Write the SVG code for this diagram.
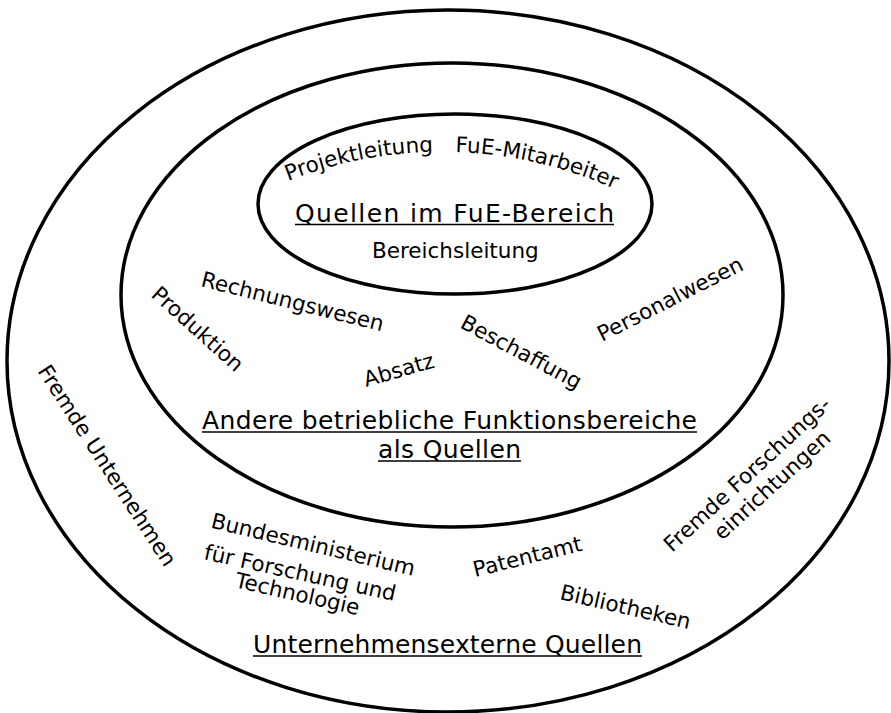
<svg xmlns="http://www.w3.org/2000/svg" xmlns:xlink="http://www.w3.org/1999/xlink" width="891" height="713" viewBox="0 0 891 713">
  <style>
    .ring { fill: none; stroke: #000; stroke-width: 3.5; }
    .lbl { font-family: "DejaVu Sans", "Liberation Sans", sans-serif; font-size: 21.5px; fill: #000; }
    .ttl { font-family: "DejaVu Sans", "Liberation Sans", sans-serif; font-size: 25px; fill: #000; }
    .ul { stroke: #000; stroke-width: 1.6; }
  </style>
  <defs>
    <!-- baseline arc for the labels along the top of the inner ring -->
    <path id="arcTop" d="M288,181 A420,420 0 0,1 650,207" fill="none"/>
  </defs>
  <rect width="891" height="713" fill="#fff"/>

  <!-- outer ring: external sources -->
  <g id="ring-extern">
    <ellipse class="ring" cx="448" cy="361" rx="441" ry="351"/>
    <text class="lbl" x="37" y="371" transform="rotate(57 37 371)">Fremde Unternehmen</text>
    <text class="lbl" x="210" y="527.5" transform="rotate(13.4 210 527.5)">Bundesministerium</text>
    <text class="lbl" x="203" y="559" transform="rotate(12.4 203 559)">für Forschung und</text>
    <text class="lbl" x="234" y="587" transform="rotate(12.8 234 587)">Technologie</text>
    <text class="lbl" x="475" y="577" transform="rotate(-13.8 475 577)">Patentamt</text>
    <text class="lbl" x="559" y="599" transform="rotate(13 559 599)">Bibliotheken</text>
    <text class="lbl" x="672" y="553" font-size="22" transform="rotate(-42.5 672 553)">Fremde Forschungs-</text>
    <text class="lbl" x="722" y="541" font-size="22" transform="rotate(-42.5 722 541)">einrichtungen</text>
    <text class="ttl" x="253" y="653" textLength="389" lengthAdjust="spacing">Unternehmensexterne Quellen</text>
    <line class="ul" x1="253" y1="656" x2="642" y2="656"/>
  </g>

  <!-- middle ring: other company functions -->
  <g id="ring-betrieb">
    <ellipse class="ring" cx="452" cy="295" rx="331" ry="232"/>
    <text class="lbl" x="200" y="286" transform="rotate(14 200 286)">Rechnungswesen</text>
    <text class="lbl" x="150" y="296" transform="rotate(42 150 296)">Produktion</text>
    <text class="lbl" x="366" y="387" transform="rotate(-16 366 387)">Absatz</text>
    <text class="lbl" x="459" y="327" transform="rotate(28 459 327)">Beschaffung</text>
    <text class="lbl" x="602" y="342" transform="rotate(-27 602 342)">Personalwesen</text>
    <text class="ttl" x="202" y="429" textLength="495" lengthAdjust="spacing">Andere betriebliche Funktionsbereiche</text>
    <line class="ul" x1="202" y1="432" x2="697" y2="432"/>
    <text class="ttl" x="378" y="458" textLength="143" lengthAdjust="spacing">als Quellen</text>
    <line class="ul" x1="378" y1="461" x2="521" y2="461"/>
  </g>

  <!-- inner ring: R&D sources -->
  <g id="ring-fue">
    <ellipse class="ring" cx="455" cy="204" rx="197" ry="90"/>
    <text class="lbl"><textPath xlink:href="#arcTop" href="#arcTop">Projektleitung</textPath></text>
    <text class="lbl"><textPath xlink:href="#arcTop" href="#arcTop" startOffset="171">FuE-Mitarbeiter</textPath></text>
    <text class="ttl" x="295" y="221.5" textLength="319" lengthAdjust="spacing">Quellen im FuE-Bereich</text>
    <line class="ul" x1="295" y1="224.5" x2="614" y2="224.5"/>
    <text class="lbl" x="372" y="258">Bereichsleitung</text>
  </g>
</svg>
